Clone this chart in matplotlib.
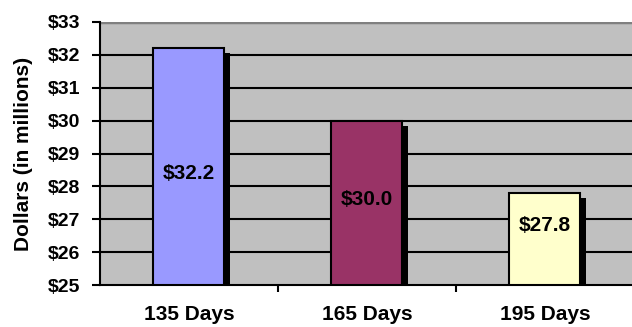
import numpy as np
import matplotlib.pyplot as plt
from matplotlib.patches import Rectangle

plt.rcParams['font.family'] = ['Liberation Sans', 'DejaVu Sans']
plt.rcParams['font.weight'] = 'bold'

# Datos
categorias = ['135 Days', '165 Days', '195 Days']
valores = [32.2, 30.0, 27.8]
etiquetas = ['$32.2', '$30.0', '$27.8']
colores = ['#9999FF', '#993366', '#FFFFCC']
ticks_y = list(range(25, 34))

fig = plt.figure(figsize=(6.32, 3.27), dpi=100)
ax = fig.add_axes([0.158, 0.128, 0.845, 0.805])
ax.set_facecolor('#C0C0C0')

base = 25
ax.set_xlim(0, 3)
ax.set_ylim(25, 33)

# Lineas de la rejilla
for v in ticks_y[1:-1]:
    ax.axhline(v, color='black', lw=1.5, zorder=1)
ax.axhline(33, color='#808080', lw=2.5, zorder=1)

x = np.arange(len(valores)) + 0.5
ancho = 0.4
for xi, v, c, t in zip(x, valores, colores, etiquetas):
    # sombra
    ax.add_patch(Rectangle((xi - ancho / 2 + 0.03, base), ancho, v - base - 0.15,
                           facecolor='black', edgecolor='none', zorder=2))
    ax.bar(xi, v - base, bottom=base, width=ancho, color=c, edgecolor='black',
           linewidth=1.5, zorder=3)
    ax.text(xi, base + 0.36 * (v - base) + 0.8, t, ha='center', va='center',
            fontsize=15, fontweight='bold', zorder=4)

ax.set_yticks(ticks_y)
ax.set_yticklabels(['$' + str(v) for v in ticks_y], fontsize=14, fontweight='bold')
ax.set_xticks(x)
ax.set_xticklabels(categorias, fontsize=15, fontweight='bold')
ax.set_xticks([1, 2], minor=True)
ax.tick_params(axis='x', which='major', length=0, pad=14)
ax.tick_params(axis='x', which='minor', length=5, width=1.5, direction='out')
ax.tick_params(axis='y', length=6, width=1.5, direction='out', pad=8)

for s in ['top', 'right']:
    ax.spines[s].set_visible(False)
ax.spines['left'].set_linewidth(1.5)
ax.spines['bottom'].set_linewidth(1.5)

ax.set_ylabel('Dollars (in millions)', fontsize=15, fontweight='bold')
ax.yaxis.set_label_coords(-0.125, 0.5)

plt.savefig('out.png', dpi=100)
